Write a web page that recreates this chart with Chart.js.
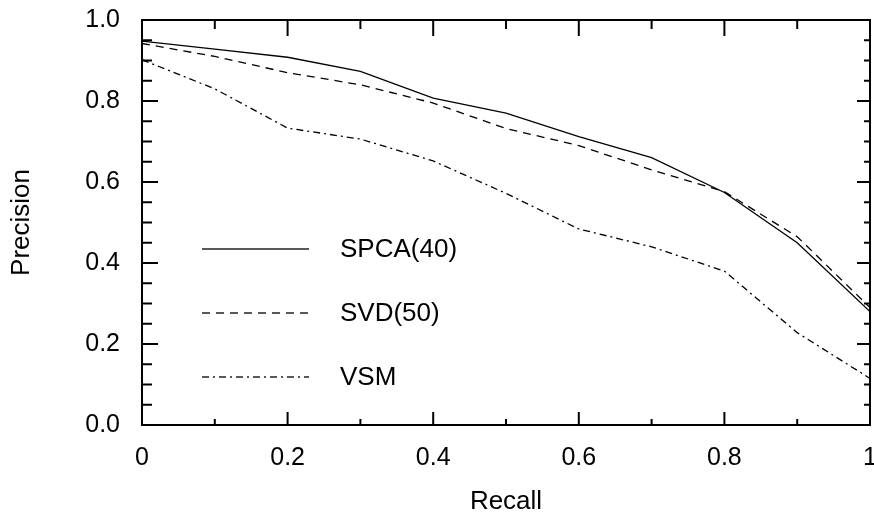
<!DOCTYPE html>
<html>
<head>
<meta charset="utf-8">
<script src="https://cdn.jsdelivr.net/npm/chart.js@4.4.0/dist/chart.umd.min.js"></script>
<style>
  html, body { margin: 0; padding: 0; background: #fff; }
  #wrap { width: 874px; height: 521px; }
</style>
</head>
<body>
<div id="wrap"><canvas id="prChart" width="874" height="521"></canvas></div>
<script>
// recall levels and precision for each method
const recall = [0, 0.1, 0.2, 0.3, 0.4, 0.5, 0.6, 0.7, 0.8, 0.9, 1.0];
const spca40 = [0.948, 0.928, 0.908, 0.873, 0.807, 0.770, 0.712, 0.660, 0.574, 0.450, 0.280];
const svd50  = [0.942, 0.910, 0.870, 0.840, 0.795, 0.732, 0.690, 0.630, 0.576, 0.465, 0.290];
const vsm    = [0.902, 0.830, 0.733, 0.706, 0.652, 0.572, 0.484, 0.440, 0.380, 0.228, 0.115];
const xTicks = [0, 0.2, 0.4, 0.6, 0.8, 1];
const yTicks = [0, 0.2, 0.4, 0.6, 0.8, 1.0];

const FONT = "'Liberation Sans', Arial, sans-serif";

function pts(ys) {
  return recall.map((x, i) => ({ x: x, y: ys[i] }));
}

// frame with inward ticks on all four sides
const framePlugin = {
  id: 'frame',
  afterDraw(chart) {
    const ctx = chart.ctx;
    const a = chart.chartArea;
    const xs = chart.scales.x, ys = chart.scales.y;
    ctx.save();
    ctx.strokeStyle = '#000';
    ctx.lineWidth = 2;
    ctx.beginPath();
    ctx.rect(a.left, a.top, a.right - a.left, a.bottom - a.top);
    ctx.stroke();
    ctx.beginPath();
    for (let i = 1; i < 10; i++) {
      const px = xs.getPixelForValue(i / 10);
      const major = i % 2 === 0;
      ctx.moveTo(px, a.bottom); ctx.lineTo(px, a.bottom - (major ? 13 : 6));
      ctx.moveTo(px, a.top); ctx.lineTo(px, a.top + (major ? 16 : 9));
    }
    for (let i = 1; i < 20; i++) {
      const py = ys.getPixelForValue(i / 20);
      const major = i % 4 === 0;
      ctx.moveTo(a.left, py); ctx.lineTo(a.left + (major ? 16 : 10), py);
      ctx.moveTo(a.right, py); ctx.lineTo(a.right - (major ? 13 : 6), py);
    }
    ctx.stroke();
    ctx.restore();
  }
};

// legend drawn inside the plot, lower left
const legendPlugin = {
  id: 'innerLegend',
  afterDraw(chart) {
    const ctx = chart.ctx;
    const rows = [249, 313, 377];
    ctx.save();
    chart.data.datasets.forEach((ds, i) => {
      const y = rows[i];
      ctx.strokeStyle = '#222';
      ctx.lineWidth = 1.4;
      ctx.setLineDash(ds.borderDash || []);
      ctx.beginPath();
      ctx.moveTo(202, y);
      ctx.lineTo(309, y);
      ctx.stroke();
      ctx.setLineDash([]);
      ctx.fillStyle = '#000';
      ctx.font = '26px ' + FONT;
      ctx.textBaseline = 'middle';
      ctx.textAlign = 'left';
      ctx.fillText(ds.label, 340, y + 1);
    });
    ctx.restore();
  }
};

const ctx = document.getElementById('prChart').getContext('2d');
const chart = new Chart(ctx, {
  type: 'line',
  data: {
    datasets: [
      { label: 'SPCA(40)', data: pts(spca40), borderColor: '#000', borderWidth: 1.3, borderDash: [] },
      { label: 'SVD(50)', data: pts(svd50), borderColor: '#000', borderWidth: 1.3, borderDash: [8, 6] },
      { label: 'VSM', data: pts(vsm), borderColor: '#000', borderWidth: 1.3, borderDash: [7, 4, 2, 4] }
    ]
  },
  options: {
    responsive: false,
    animation: false,
    layout: { padding: { left: 0, right: 4, top: 0, bottom: 0 } },
    elements: { point: { radius: 0 }, line: { tension: 0 } },
    plugins: { legend: { display: false }, tooltip: { enabled: false } },
    scales: {
      x: {
        type: 'linear', min: 0, max: 1,
        grid: { display: false, drawTicks: false },
        border: { display: false },
        afterBuildTicks: s => { s.ticks = xTicks.map(v => ({ value: v })); },
        afterFit: s => { s.height = 96; s.paddingLeft = 0; s.paddingRight = 4; },
        ticks: {
          padding: 18, color: '#000', maxRotation: 0,
          font: { family: FONT, size: 25 },
          callback: v => (v === 0 ? '0' : v === 1 ? '1' : v.toFixed(1))
        },
        title: { display: true, text: 'Recall', color: '#000', font: { family: FONT, size: 26 }, padding: { top: 4, bottom: 4 } }
      },
      y: {
        type: 'linear', min: 0, max: 1,
        grid: { display: false, drawTicks: false },
        border: { display: false },
        afterBuildTicks: s => { s.ticks = yTicks.map(v => ({ value: v })); },
        afterFit: s => { s.width = 142; s.paddingTop = 20; s.paddingBottom = 0; },
        ticks: {
          padding: 22, color: '#000',
          font: { family: FONT, size: 25 },
          callback: v => v.toFixed(1)
        },
        title: { display: true, text: 'Precision', color: '#000', font: { family: FONT, size: 26 }, padding: { top: 6, bottom: 6 } }
      }
    }
  },
  plugins: [framePlugin, legendPlugin]
});
</script>
</body>
</html>
